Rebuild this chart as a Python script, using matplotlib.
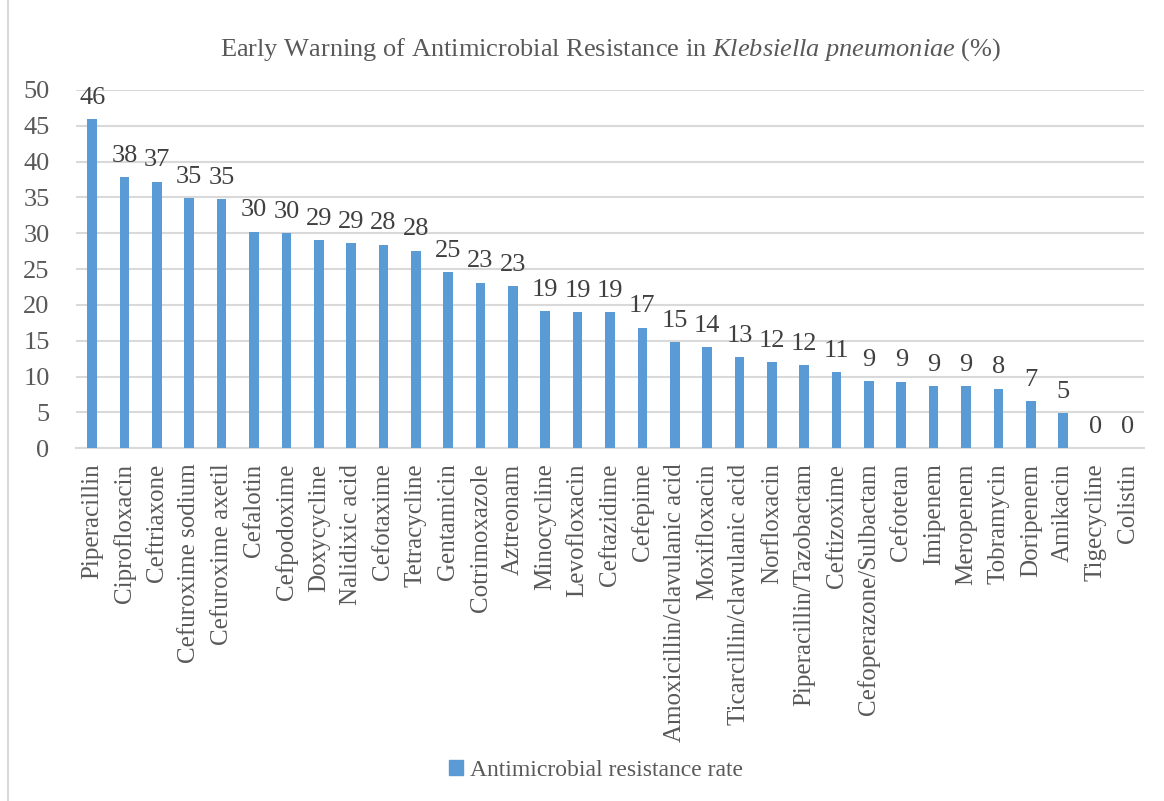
import numpy as np
import matplotlib
matplotlib.use("Agg")
import matplotlib.pyplot as plt
from matplotlib.patches import Patch
from matplotlib.lines import Line2D

# antimicrobial agents, sorted by resistance rate
drugs = ["Piperacillin", "Ciprofloxacin", "Ceftriaxone", "Cefuroxime sodium",
         "Cefuroxime axetil", "Cefalotin", "Cefpodoxime", "Doxycycline",
         "Nalidixic acid", "Cefotaxime", "Tetracycline", "Gentamicin",
         "Cotrimoxazole", "Aztreonam", "Minocycline", "Levofloxacin",
         "Ceftazidime", "Cefepime", "Amoxicillin/clavulanic acid",
         "Moxifloxacin", "Ticarcillin/clavulanic acid", "Norfloxacin",
         "Piperacillin/Tazobactam", "Ceftizoxime", "Cefoperazone/Sulbactam",
         "Cefotetan", "Imipenem", "Meropenem", "Tobramycin", "Doripenem",
         "Amikacin", "Tigecycline", "Colistin"]
rates = [45.9, 37.8, 37.2, 34.9, 34.8, 30.2, 30.0, 29.0, 28.6, 28.4, 27.6,
         24.6, 23.1, 22.6, 19.1, 19.0, 19.0, 16.8, 14.8, 14.1, 12.7, 12.0,
         11.6, 10.6, 9.4, 9.3, 8.7, 8.7, 8.3, 6.6, 4.9, 0.0, 0.0]
series_name = "Antimicrobial resistance rate"

plt.rcParams["font.family"] = ["Liberation Serif", "DejaVu Serif"]
plt.rcParams["mathtext.fontset"] = "custom"
plt.rcParams["mathtext.rm"] = "Liberation Serif"
plt.rcParams["mathtext.it"] = "Liberation Serif:italic"

barColor = "#5B9BD5"
labelColor = "#404040"
tickColor = "#595959"
gridColor = "#D9D9D9"

fig = plt.figure(figsize=(11.64, 8.01), dpi=100)
# chart area border (left edge only shows)
fig.lines.append(Line2D([7.5 / 1164, 7.5 / 1164], [0, 1], transform=fig.transFigure,
                        color=gridColor, linewidth=1.5))

ax = fig.add_axes([76 / 1164, 1 - 448.3 / 801, (1144 - 76) / 1164, (448.3 - 90) / 801])

xpos = np.arange(len(drugs))
bars = ax.bar(xpos, rates, width=0.3, color=barColor, zorder=3)

# value labels above bars
for x, v in zip(xpos, rates):
    ax.annotate("%.0f" % v, (x, v), xytext=(0, 7.5), textcoords="offset points",
                ha="center", va="bottom", fontsize=19, color=labelColor)

ax.set_xlim(-0.5, len(drugs) - 0.5)
ax.set_ylim(0, 50)
ax.set_yticks(np.arange(0, 51, 5))
ax.yaxis.grid(True, color=gridColor, linewidth=1.5, zorder=0)
ax.set_axisbelow(True)
for s in ["top", "right", "left"]:
    ax.spines[s].set_visible(False)
ax.spines["bottom"].set_color(gridColor)
ax.spines["bottom"].set_linewidth(1.5)
ax.tick_params(axis="both", length=0, colors=tickColor, labelsize=18)
ax.tick_params(axis="y", pad=19, labelsize=19)
ax.tick_params(axis="x", pad=11)
ax.set_xticks(xpos)
ax.set_xticklabels(drugs, rotation=90, ha="center", va="top")

fig.text(0.525, 1 - 50 / 801,
         r"Early Warning of Antimicrobial Resistance in $\it{Klebsiella\ pneumoniae}$ (%)",
         ha="center", va="center", fontsize=19, color=tickColor)

ax.legend(handles=[Patch(color=barColor, label=series_name)],
          loc="center", bbox_to_anchor=(0.512, 1 - 770 / 801), bbox_transform=fig.transFigure,
          frameon=False, fontsize=17, handlelength=0.6, handleheight=0.6,
          handletextpad=0.3, labelcolor=tickColor)

fig.savefig("out.png", dpi=100)
